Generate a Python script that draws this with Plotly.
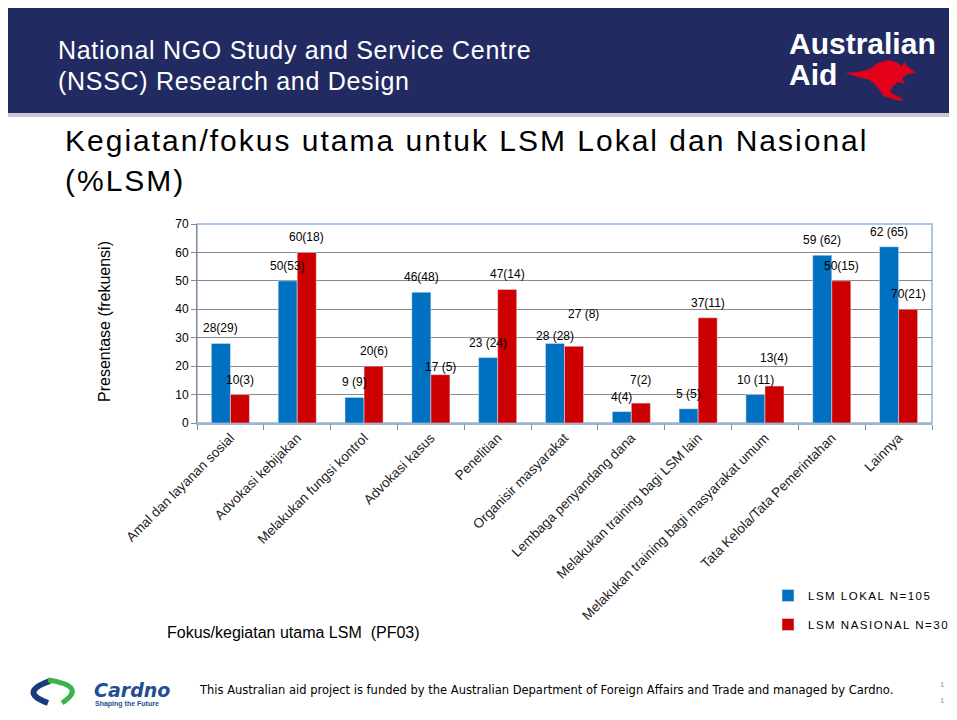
import plotly.graph_objects as go

# the page body has an 8px margin, so the figure is a bit smaller than the window
PAD = 8
W, H = 957 - PAD, 700

categories = [
    "Amal dan layanan sosial",
    "Advokasi kebijakan",
    "Melakukan fungsi kontrol",
    "Advokasi kasus",
    "Penelitian",
    "Organisir masyarakat",
    "Lembaga penyandang dana",
    "Melakukan training bagi LSM lain",
    "Melakukan training bagi masyarakat umum",
    "Tata Kelola/Tata Pemerintahan",
    "Lainnya",
]
lokal = [28, 50, 9, 46, 23, 28, 4, 5, 10, 59, 62]
nasional = [10, 60, 20, 17, 47, 27, 7, 37, 13, 50, 40]
lokal_labels = ["28(29)", "50(53)", "9 (9)", "46(48)", "23 (24)", "28 (28)",
                "4(4)", "5 (5)", "10 (11)", "59 (62)", "62 (65)"]
nasional_labels = ["10(3)", "60(18)", "20(6)", "17 (5)", "47(14)", "27 (8)",
                   "7(2)", "37(11)", "13(4)", "50(15)", "70(21)"]
y_ticks = [0, 10, 20, 30, 40, 50, 60, 70]

BLUE = "#0070c0"
RED = "#cc0000"
NAVY = "#222a62"
GRID = "#8a8a8a"
FONT = "Liberation Sans, Arial, sans-serif"

# labels that were dragged around by hand in the original (extra px up, px right)
lokal_nudge = {"Organisir masyarakat": (-8, 0)}
nasional_nudge = {
    "Advokasi kasus": (-7, 0),
    "Organisir masyarakat": (17, 9),
    "Lembaga penyandang dana": (8, 0),
    "Melakukan training bagi masyarakat umum": (13, 0),
}


def px_x(x):
    return (x - PAD) / W


def px_y(y):
    return 1 - (y - PAD) / H


def pth(points):
    s = "M " + " L ".join(f"{px_x(x):.5f},{px_y(y):.5f}" for x, y in points)
    return s + " Z"


def spaced(t, sp):
    return f'<span style="letter-spacing:{sp}px">{t}</span>'


fig = go.Figure()
fig.add_bar(x=categories, y=lokal, name=spaced("LSM LOKAL N=105", 1.5),
            marker_color=BLUE, legendgroup="a")
fig.add_bar(x=categories, y=nasional, name=spaced("LSM NASIONAL N=30", 1.5),
            marker_color=RED, legendgroup="b")

ann = []
for vals, labels, side, nudge in [(lokal, lokal_labels, -1, lokal_nudge),
                                  (nasional, nasional_labels, 1, nasional_nudge)]:
    for c, v, t in zip(categories, vals, labels):
        dy, dx = nudge.get(c, (0, 0))
        ann.append(dict(x=c, y=v, text=t, xref="x", yref="y", showarrow=False,
                        xshift=side * 9.5 + dx, yshift=15 + dy,
                        font=dict(size=12, color="black")))


def txt(x, y, t, size, color="black", xanchor="left", family=FONT, **kw):
    ann.append(dict(x=px_x(x), y=px_y(y), xref="paper", yref="paper", text=t,
                    showarrow=False, xanchor=xanchor, yanchor="middle",
                    font=dict(size=size, color=color, family=family), **kw))


txt(56, 50, spaced("National NGO Study and Service Centre", 0.7), 25, "white")
txt(56, 81, spaced("(NSSC) Research and Design", 0.7), 25, "white")
txt(787, 44, "<b>Australian</b>", 30, "white")
txt(787, 74, "<b>Aid</b>", 30, "white")
txt(63, 140, spaced("Kegiatan/fokus utama untuk LSM Lokal dan Nasional", 2), 30)
txt(63, 181, spaced("(%LSM)", 2), 30)
txt(104, 322, "Presentase (frekuensi)", 16, xanchor="center", textangle=-90)
txt(165, 632, "Fokus/kegiatan utama LSM  (PF03)", 16)
txt(92, 690, "<b><i>Cardno</i></b>", 19, "#1f4e96", family="DejaVu Sans")
txt(93, 704, "<b>Shaping the Future</b>", 7, "#1f4e96")
txt(197, 690, "This Australian aid project is funded by the Australian Department of "
    "Foreign Affairs and Trade and managed by Cardno.", 11.5, family="DejaVu Sans")
txt(938, 684, "1", 8, "#999999")
txt(938, 700, "1", 8, "#999999")

shapes = [
    dict(type="rect", xref="paper", yref="paper", x0=0, x1=1,
         y0=px_y(113), y1=px_y(5), fillcolor=NAVY, line_width=0, layer="below"),
    dict(type="rect", xref="paper", yref="paper", x0=0, x1=1,
         y0=px_y(117), y1=px_y(113), fillcolor="#c9c9d4", line_width=0, layer="below"),
    # plot area border
    dict(type="rect", xref="paper", yref="paper", x0=px_x(197), x1=px_x(932),
         y0=px_y(423), y1=px_y(224), line=dict(color="#8eb4e3", width=1.5),
         layer="below"),
    # kangaroo
    dict(type="path", xref="paper", yref="paper", fillcolor="#e2001a", line_width=0,
         path=pth([(845, 73), (858, 72), (870, 69), (878, 63), (888, 60), (896, 62),
                   (902, 66), (905, 62), (907, 66), (916, 73), (908, 74), (902, 78),
                   (905, 84), (898, 82), (893, 86), (890, 92), (904, 100), (900, 101),
                   (884, 96), (878, 88), (870, 80), (858, 77)])),
    # cardno swoosh
    dict(type="path", xref="paper", yref="paper", line=dict(color="#1b3c7a", width=6),
         path=f"M {px_x(50)},{px_y(681)} Q {px_x(18)},{px_y(692)} {px_x(48)},{px_y(703)}"),
    dict(type="path", xref="paper", yref="paper", line=dict(color="#3ab54a", width=5),
         path=f"M {px_x(48)},{px_y(680)} Q {px_x(88)},{px_y(686)} {px_x(62)},{px_y(703)}"),
]

fig.update_layout(
    width=W, height=H,
    margin=dict(l=0, r=0, t=0, b=0),
    paper_bgcolor="white", plot_bgcolor="white",
    font=dict(family=FONT, color="black"),
    barmode="group", bargap=0.43, bargroupgap=0,
    annotations=ann, shapes=shapes,
    legend=dict(x=px_x(768), y=px_y(581), xanchor="left", yanchor="top",
                font=dict(size=11.5), tracegroupgap=10, bgcolor="rgba(0,0,0,0)"),
    xaxis=dict(domain=[px_x(197), px_x(932)], automargin=False,
               tickangle=-45, tickfont=dict(size=13.5, color="#222222"),
               ticks="outside", tickson="boundaries", ticklen=5, tickcolor=GRID,
               showline=True, linecolor="#9fb4cc", linewidth=1.5,
               showgrid=False, fixedrange=True),
    yaxis=dict(domain=[px_y(423), px_y(224)], automargin=False,
               range=[0, 70], tickvals=y_ticks, tickfont=dict(size=12),
               ticks="outside", ticklen=5, tickcolor=GRID,
               showline=True, linecolor=GRID, linewidth=1,
               gridcolor=GRID, gridwidth=1, zeroline=False),
)

fig.write_html("out.html")
